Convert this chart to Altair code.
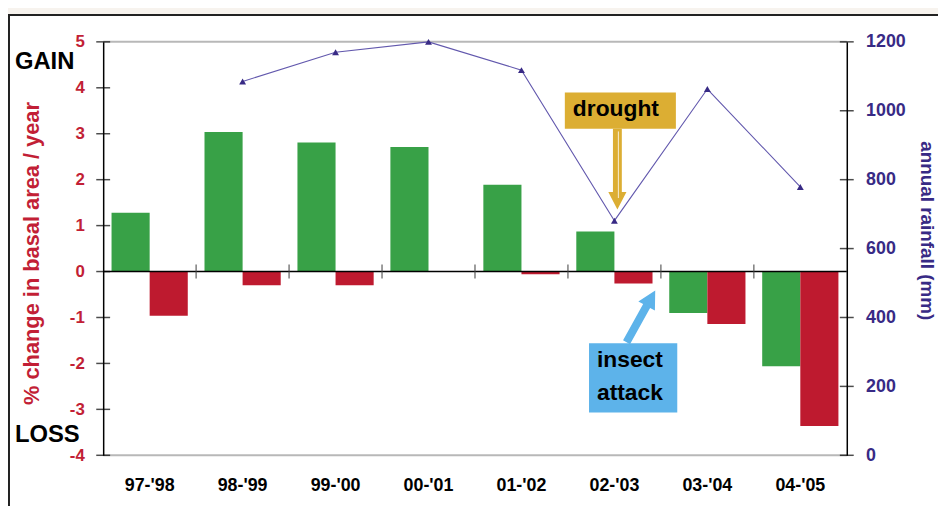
import altair as alt
import pandas as pd

# ---------------- data ----------------
years = ["97-'98", "98-'99", "99-'00", "00-'01", "01-'02", "02-'03", "03-'04", "04-'05"]
series_a = [1.28, 3.04, 2.81, 2.71, 1.89, 0.87, -0.90, -2.06]      # green bars
series_b = [-0.96, -0.30, -0.30, 0.0, -0.06, -0.26, -1.14, -3.36]  # red bars
rain_years = ["98-'99", "99-'00", "00-'01", "01-'02", "02-'03", "03-'04", "04-'05"]
rainfall = [1085, 1170, 1200, 1118, 681, 1063, 779]
left_ticks = [-4, -3, -2, -1, 0, 1, 2, 3, 4, 5]
right_ticks = [0, 200, 400, 600, 800, 1000, 1200]

bars_df = pd.DataFrame({
    "year": years + years,
    "series": ["a"] * len(years) + ["b"] * len(years),
    "value": series_a + series_b,
})
rain_df = pd.DataFrame({"year": rain_years, "rain": rainfall})
lt_df = pd.DataFrame({"t": left_ticks})
rt_df = pd.DataFrame({"t": right_ticks})
boundary_df = pd.DataFrame({"year": years[1:]})
one = pd.DataFrame({"k": [0]})

# ---------------- style ----------------
FONT = "Liberation Sans"
GREEN = "#38a147"
RED = "#be1a2f"
RED_TEXT = "#c21f36"
PURPLE_LINE = "#6258ad"
PURPLE_DARK = "#382a85"
GOLD = "#dcae33"
BLUE = "#5db3ea"

x_scale = alt.Scale(domain=years, paddingInner=0.18, paddingOuter=0.09)
x_axis = alt.Axis(domain=False, ticks=False, grid=False, labelAngle=0,
                  labelFont=FONT, labelFontSize=18, labelFontWeight="bold",
                  labelColor="black", labelPadding=22, zindex=1)

left_scale = alt.Scale(domain=[-4, 5], nice=False, zero=False)
left_title = "% change in basal area / year"
left_axis = alt.Axis(orient="left", values=left_ticks, ticks=False, grid=False,
                     domainColor="black", domainWidth=1.5,
                     labelExpr="'' + datum.value",
                     labelColor=RED_TEXT, labelFont=FONT, labelFontSize=17,
                     labelFontWeight="bold", labelPadding=19,
                     titleColor=RED_TEXT, titleFont=FONT, titleFontSize=22,
                     titleFontWeight="bold", titleAngle=-90, titleX=-72, titleY=213,
                     titleBaseline="middle", titleAlign="center", zindex=1)

right_scale = alt.Scale(domain=[0, 1200], nice=False, zero=False)
right_title = "annual rainfall (mm)"
right_axis = alt.Axis(orient="right", values=right_ticks, ticks=False, grid=False,
                      domainColor="black", domainWidth=1.5,
                      labelExpr="'' + datum.value",
                      labelColor=PURPLE_DARK, labelFont=FONT, labelFontSize=18,
                      labelFontWeight="bold", labelPadding=19,
                      titleColor=PURPLE_DARK, titleFont=FONT, titleFontSize=19,
                      titleFontWeight="bold", titleAngle=90, titleX=80, titleY=190,
                      titleBaseline="middle", titleAlign="center", zindex=1)


def X(field=None, datum=None):
    if datum is not None:
        return alt.X(datum=datum, type="nominal", scale=x_scale, axis=x_axis, title=None)
    return alt.X(field, type="nominal", scale=x_scale, axis=x_axis, title=None)


def YL(field=None, datum=None):
    if datum is not None:
        return alt.Y(datum=datum, type="quantitative", scale=left_scale, axis=left_axis, title=left_title)
    return alt.Y(field, type="quantitative", scale=left_scale, axis=left_axis, title=left_title)


def YR(field):
    return alt.Y(field, type="quantitative", scale=right_scale, axis=right_axis, title=right_title)


# ---------------- left group ----------------
frame = alt.Chart(one).mark_rect(fill="white", stroke="#222222", strokeWidth=2).encode(
    x=alt.value(-95), x2=alt.value(1200), y=alt.value(-27), y2=alt.value(1200))

top_line = alt.Chart(one).mark_rule(color="#b8b8b8", strokeWidth=2).encode(y=YL(datum=left_ticks[-1]))
bottom_line = alt.Chart(one).mark_rule(color="#b8b8b8", strokeWidth=2).encode(y=YL(datum=left_ticks[0]))

bars = alt.Chart(bars_df).mark_bar().encode(
    x=X("year"),
    xOffset=alt.XOffset("series:N", scale=alt.Scale(domain=["a", "b"], paddingInner=0, paddingOuter=0)),
    y=YL("value"),
    color=alt.Color("series:N", scale=alt.Scale(domain=["a", "b"], range=[GREEN, RED]), legend=None),
)

zero_rule = alt.Chart(one).mark_rule(color="black", strokeWidth=1.5).encode(y=YL(datum=0))

zero_ticks = alt.Chart(boundary_df).mark_tick(
    orient="vertical", size=14, thickness=1.5, color="#444444", xOffset=-46.875
).encode(x=X("year"), y=YL(datum=0))

l_ticks = alt.Chart(lt_df).mark_tick(orient="horizontal", size=14, thickness=1.5, color="black").encode(
    y=YL("t"), x=alt.value(0))

gain_txt = alt.Chart(one).mark_text(text="GAIN", font=FONT, fontSize=24, fontWeight="bold",
                                    color="black", align="left", baseline="middle").encode(
    x=alt.value(-89), y=YL(datum=4.57))
loss_txt = alt.Chart(one).mark_text(text="LOSS", font=FONT, fontSize=24, fontWeight="bold",
                                    color="black", align="left", baseline="middle").encode(
    x=alt.value(-89), y=YL(datum=-3.55))

drought_box = alt.Chart(one).mark_bar(color=GOLD, width=112, xOffset=6).encode(
    x=X(datum="02-'03"), y=YL(datum=3.90), y2=alt.Y2(datum=3.11))
drought_txt = alt.Chart(one).mark_text(text="drought", font=FONT, fontSize=23, fontWeight="bold",
                                       color="black", baseline="middle", dx=1.5).encode(
    x=X(datum="02-'03"), y=YL(datum=3.53))
ARROW_DOWN = "M-0.11,-1L0.11,-1L0.11,0.567L0.225,0.567L0,1L-0.225,0.567L-0.11,0.567Z"
drought_arrow = alt.Chart(one).mark_point(shape=ARROW_DOWN, size=6610, filled=True, color=GOLD,
                                          opacity=1, strokeWidth=0, xOffset=3).encode(
    x=X(datum="02-'03"), y=YL(datum=2.23))
drought_hl = alt.Chart(one).mark_rule(color="white", strokeWidth=1, opacity=0.8, xOffset=4).encode(
    x=X(datum="02-'03"), y=YL(datum=3.05), y2=alt.Y2(datum=1.60))

insect_box = alt.Chart(one).mark_bar(color=BLUE, width=89, xOffset=18.9).encode(
    x=X(datum="02-'03"), y=YL(datum=-1.56), y2=alt.Y2(datum=-3.07))
insect_txt = alt.Chart(one).mark_text(text=["insect", "attack"], font=FONT, fontSize=23,
                                      fontWeight="bold", color="black", align="left",
                                      baseline="middle", lineHeight=33, dx=-17.6).encode(
    x=X(datum="02-'03"), y=YL(datum=-1.93))
ARROW_UP = "M-0.134,1L0.134,1L0.134,-0.4L0.32,-0.4L0,-1L-0.32,-0.4L-0.134,-0.4Z"
insect_arrow = alt.Chart(one).mark_point(shape=ARROW_UP, size=3564, angle=29, filled=True, color=BLUE,
                                         opacity=1, strokeWidth=0, xOffset=26.7).encode(
    x=X(datum="02-'03"), y=YL(datum=-0.975))

left = alt.layer(frame, top_line, bottom_line, bars, zero_rule, zero_ticks, l_ticks,
                 gain_txt, loss_txt, drought_box, drought_txt, drought_arrow, drought_hl,
                 insect_box, insect_txt, insect_arrow)

# ---------------- right group ----------------
rain_line = alt.Chart(rain_df).mark_line(color=PURPLE_LINE, strokeWidth=1.1).encode(
    x=X("year"), y=YR("rain"))
rain_pts = alt.Chart(rain_df).mark_point(shape="triangle-up", filled=True, size=48,
                                         color=PURPLE_DARK, opacity=1).encode(
    x=X("year"), y=YR("rain"))
r_ticks = alt.Chart(rt_df).mark_tick(orient="horizontal", size=14, thickness=1.5, color="black").encode(
    y=YR("t"), x=alt.value(750))

right = alt.layer(rain_line, rain_pts, r_ticks)

chart = alt.layer(left, right).resolve_scale(y="independent").properties(
    width=750, height=417,
    padding={"left": 96, "top": 32, "right": 92, "bottom": 50},
    autosize=alt.AutoSizeParams(type="none"),
).configure(background="#f7f3ee").configure_view(stroke=None)

chart.save("out.html", embed_options={"renderer": "svg", "actions": False})
